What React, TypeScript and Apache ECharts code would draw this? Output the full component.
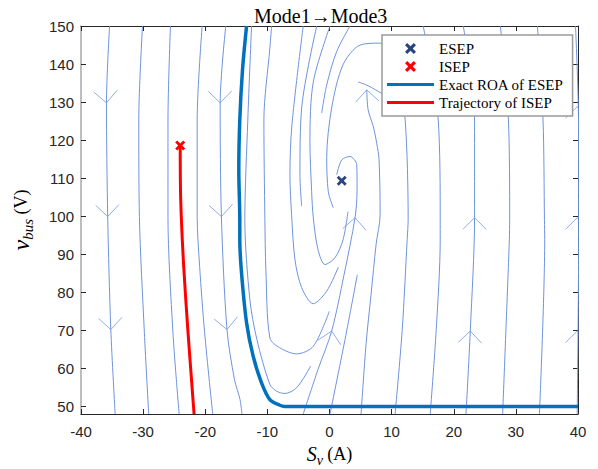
import React, { useEffect, useRef } from 'react';
import * as echarts from 'echarts';

const xTicks = [-40, -30, -20, -10, 0, 10, 20, 30, 40];
const yTicks = [50, 60, 70, 80, 90, 100, 110, 120, 130, 140, 150];

const esepPoint = [[1.97, 109.3]];
const isepPoint = [[-24.03, 118.6]];

const roaBoundary = [
  [-13.35, 150], [-14.0, 138.5], [-14.44, 125.3], [-14.6, 112.2], [-14.44, 99.1],
  [-14.44, 93.8], [-14.16, 85.1], [-13.35, 72.0], [-12.29, 63.2], [-10.94, 56.2],
  [-9.6, 51.8], [-7.98, 50.3], [-7.18, 50], [40, 50],
];

const isepTrajectory = [
  [-24.03, 118.6], [-23.95, 104.3], [-23.47, 86.8], [-22.77, 69.4], [-22.18, 56.3], [-21.8, 48],
];

// streamlines (phase portrait)
const streamL1 = [[-35.4, 150], [-35.9, 129.8], [-35.7, 99.9], [-35.2, 70.2], [-34.5, 48]];
const streamL2 = [[-30.1, 150], [-30.7, 125.3], [-30.6, 99.9], [-29.8, 69.4], [-29.1, 48]];
const streamL3 = [[-25.6, 150], [-26.0, 125.3], [-26.0, 99.9], [-25.2, 69.4], [-24.2, 48]];
const streamL4 = [[-20.5, 150], [-21.3, 125.3], [-21.3, 99.9], [-20.9, 86.7], [-20.1, 69.4], [-18.8, 48]];
const streamL5 = [[-16.7, 150], [-17.6, 129.8], [-17.4, 99.9], [-16.5, 70.2], [-15.3, 57.1], [-14.4, 51.8], [-14.1, 48]];
const streamSa = [
  [-12.55, 150], [-13.15, 125.3], [-13.63, 99.1], [-12.82, 78.1], [-11.69, 67.6],
  [-9.6, 55.8], [-8.52, 54.0], [-7.18, 53.4], [-5.29, 54.9], [-3.03, 60.6],
];
const streamSb = [
  [-9.32, 150], [-9.6, 144.2], [-10.56, 125.3], [-10.4, 99.1], [-10.24, 86.0],
  [-9.6, 68.0], [-8.0, 65.4], [-5.29, 63.8], [-2.61, 65.8], [-0.03, 75.0],
];
const streamSc = [
  [-4.23, 150], [-6.05, 124.0], [-6.37, 110.9], [-6.1, 100.4], [-5.56, 88.6],
  [-4.48, 81.2], [-2.61, 77.0], [-0.45, 80.3], [1.42, 86.6],
];
const streamSd = [[-2.06, 150], [-4.48, 128.5], [-4.76, 110.9], [-4.48, 102.6]];
const streamUd = [
  [0.08, 150], [-2.61, 135.3], [-3.15, 119.6], [-2.87, 106.4], [-2.61, 99.6],
  [-1.85, 91.2], [-0.73, 87.3], [0.89, 89.1], [2.18, 93.8], [2.98, 101.2],
];
const streamSe = [[3.31, 150], [1.16, 143.3], [-0.45, 134.5], [-1.26, 127.1]];
const streamR2 = [
  [10.56, 48], [11.7, 70], [12.5, 93.8], [12.66, 99.1], [12.18, 125.3], [11.05, 135.8],
  [9.76, 142.4], [8.15, 145.5], [4.92, 145.0], [2.18, 139.8], [0.35, 128.5],
  [-0.45, 115.4], [-0.19, 106.4], [0.61, 102.2],
];
const streamRise1 = [
  [-4.23, 48], [-1.85, 59.7], [0.35, 69.8], [2.34, 84.6], [4.11, 99.6], [4.44, 107],
  [4.39, 113.5], [3.31, 115.7], [1.97, 114.8], [1.16, 110.9],
];
const streamRise2 = [[0.08, 48], [2.5, 67.6], [4.48, 84.6]];
const streamR1 = [
  [5.08, 48], [5.89, 66.5], [6.69, 79.4], [7.5, 92.6], [8.15, 100.4], [7.98, 114.8],
  [7.6, 119.2], [7.06, 123.5], [6.21, 128], [6.0, 133.2],
];
const streamHook = [[4.6, 135.3], [6.21, 134.3], [8.47, 132.2], [10.08, 130.6]];
const streamR3 = [[16.21, 48], [17.18, 70.2], [17.82, 93.8], [17.82, 99.1], [17.5, 125.3], [15.08, 150]];
const streamR4 = [[21.97, 48], [22.66, 69.8], [23.35, 99.6], [23.35, 125.3], [21.53, 150]];
const streamR5 = [[27.87, 48], [28.95, 93.8], [29.0, 99.1], [28.8, 125.3], [27.5, 150]];
const streamR6 = [[33.79, 48], [34.64, 93.8], [34.6, 99.1], [34.37, 125.3], [33.47, 150]];
const streamR7 = [[39.87, 48], [40.1, 93.8], [40.08, 125.3], [39.6, 150]];

const streamlines = [
  streamL1, streamL2, streamL3, streamL4, streamL5, streamSa, streamSb, streamSc,
  streamSd, streamUd, streamSe, streamR2, streamRise1, streamRise2, streamR1,
  streamHook, streamR3, streamR4, streamR5, streamR6, streamR7,
];

// arrow heads: [x, y, dx, dy] (flow direction in data units)
const streamArrows = [
  [-35.9, 129.8, 0.05, -1], [-35.7, 99.9, 0.02, -1], [-35.2, 70.2, 0.03, -1],
  [-17.6, 129.8, 0.01, -1], [-17.4, 99.9, 0.03, -1], [-16.5, 70.2, 0.06, -1],
  [0.35, 69.8, 0.125, 1], [4.11, 99.6, 0.04, 1],
  [6.0, 133.2, -0.03, 1],
  [23.35, 99.6, 0, 1], [22.66, 69.8, 0.02, 1],
  [39.87, 128.8, 0, 1], [39.87, 99.6, 0, 1], [39.87, 69.8, 0, 1],
];

const X_PATH = 'path://M2,0 L5,3 L8,0 L10,2 L7,5 L10,8 L8,10 L5,7 L2,10 L0,8 L3,5 L0,2 Z';
const LINE_ICON = 'path://M0,0 L47,0 L47,3.2 L0,3.2 Z';
const STREAM_COLOR = '#6e93dd';
const ARROW_COLOR = '#8fadea';
const SERIF = "'Liberation Serif', 'Times New Roman', serif";
const SANS = "'Liberation Sans', Arial, sans-serif";

export default function App() {
  const ref = useRef<HTMLDivElement>(null);
  useEffect(() => {
    if (!ref.current) return;
    const chart = echarts.init(ref.current, undefined, { renderer: 'svg' });
    const streamSeries = streamlines.map((pts) => ({
      type: 'line',
      data: pts,
      symbol: 'none',
      smooth: 0.3,
      silent: true,
      lineStyle: { color: STREAM_COLOR, width: 1 },
      z: 1,
    }));
    const axisColor = '#262626';
    chart.setOption({
      animation: false,
      title: {
        text: 'Mode1→Mode3',
        left: 249,
        top: 1,
        textStyle: { fontFamily: SERIF, fontWeight: 'normal', fontSize: 20, color: '#000' },
      },
      legend: {
        orient: 'vertical',
        left: 382,
        top: 35,
        padding: [6, 9, 6, 5],
        itemGap: 3,
        itemWidth: 47,
        itemHeight: 11,
        backgroundColor: '#fff',
        borderColor: '#9a9a9a',
        borderWidth: 1.5,
        textStyle: { fontFamily: SERIF, fontSize: 15, color: '#000' },
        data: [
          { name: 'ESEP', icon: X_PATH, itemStyle: { color: '#27467f', opacity: 1 } },
          { name: 'ISEP', icon: X_PATH, itemStyle: { color: '#FF0000', opacity: 1 } },
          { name: 'Exact ROA of ESEP', icon: LINE_ICON, itemStyle: { color: '#0072BD' } },
          { name: 'Trajectory of ISEP', icon: LINE_ICON, itemStyle: { color: '#FF0000' } },
        ],
      },
      grid: { left: 81, right: 20, top: 26, bottom: 55, containLabel: false, outerBoundsMode: 'none' },
      xAxis: [
        {
          type: 'value', min: -40, max: 40, interval: 10, position: 'bottom',
          axisLine: { show: true, onZero: false, lineStyle: { color: axisColor, width: 1 } },
          axisTick: { show: true, inside: true, length: 5, lineStyle: { color: axisColor } },
          axisLabel: { fontFamily: SANS, fontSize: 15, color: axisColor, margin: 10, customValues: xTicks },
          splitLine: { show: false },
          name: '{s|S}{sub|v}{n| (A)}',
          nameLocation: 'middle',
          nameGap: 24,
          nameTextStyle: {
            rich: {
              s: { fontFamily: SERIF, fontStyle: 'italic', fontSize: 20, color: '#000' },
              sub: { fontFamily: SERIF, fontStyle: 'italic', fontSize: 14, color: '#000', padding: [14, 0, 0, 0] },
              n: { fontFamily: SERIF, fontSize: 18, color: '#000' },
            },
          },
        },
        {
          type: 'value', min: -40, max: 40, interval: 10, position: 'top',
          axisLine: { show: true, onZero: false, lineStyle: { color: axisColor, width: 1 } },
          axisTick: { show: true, inside: true, length: 5, lineStyle: { color: axisColor } },
          axisLabel: { show: false },
          splitLine: { show: false },
        },
      ],
      yAxis: [
        {
          type: 'value', min: 48, max: 150, position: 'left',
          axisLine: { show: true, onZero: false, lineStyle: { color: '#a8a8a8', width: 1.5 } },
          axisTick: { show: true, inside: true, length: 5, customValues: yTicks, lineStyle: { color: axisColor } },
          axisLabel: { fontFamily: SANS, fontSize: 15, color: axisColor, margin: 7, customValues: yTicks },
          splitLine: { show: false },
          name: '{v|v}{sub|bus}{n| (V)}',
          nameLocation: 'middle',
          nameRotate: 90,
          nameGap: 46,
          nameTextStyle: {
            rich: {
              v: { fontFamily: SERIF, fontStyle: 'italic', fontSize: 24, color: '#000' },
              sub: { fontFamily: SERIF, fontStyle: 'italic', fontSize: 15, color: '#000', padding: [14, 0, 0, 0] },
              n: { fontFamily: SERIF, fontSize: 18, color: '#000' },
            },
          },
        },
        {
          type: 'value', min: 48, max: 150, position: 'right',
          axisLine: { show: true, onZero: false, lineStyle: { color: axisColor, width: 1 } },
          axisTick: { show: true, inside: true, length: 5, customValues: yTicks, lineStyle: { color: axisColor } },
          axisLabel: { show: false },
          splitLine: { show: false },
        },
      ],
      series: [
        ...streamSeries,
        {
          type: 'custom',
          silent: true,
          clip: true,
          data: streamArrows,
          encode: { x: 0, y: 1 },
          z: 1,
          renderItem: (params: any, api: any) => {
            const x = api.value(0), y = api.value(1), dx = api.value(2), dy = api.value(3);
            const p = api.coord([x, y]);
            const q = api.coord([x + dx, y + dy]);
            let vx = q[0] - p[0], vy = q[1] - p[1];
            const len = Math.hypot(vx, vy) || 1;
            vx /= len; vy /= len;
            const bx = -vx, by = -vy;
            const L = 16.5;
            const c = Math.SQRT1_2;
            const a1 = [p[0] + L * (bx * c - by * c), p[1] + L * (bx * c + by * c)];
            const a2 = [p[0] + L * (bx * c + by * c), p[1] + L * (-bx * c + by * c)];
            return {
              type: 'polyline',
              shape: { points: [a1, p, a2] },
              style: { stroke: ARROW_COLOR, lineWidth: 1, fill: 'none' },
            };
          },
        },
        {
          name: 'Exact ROA of ESEP',
          type: 'line',
          data: roaBoundary,
          symbol: 'none',
          smooth: 0.3,
          lineStyle: { color: '#0072BD', width: 3.5 },
          itemStyle: { color: '#0072BD' },
          z: 3,
        },
        {
          name: 'Trajectory of ISEP',
          type: 'line',
          data: isepTrajectory,
          symbol: 'none',
          smooth: 0.3,
          lineStyle: { color: '#FF0000', width: 3 },
          itemStyle: { color: '#FF0000' },
          z: 3,
        },
        {
          name: 'ESEP',
          type: 'scatter',
          data: esepPoint,
          symbol: X_PATH,
          symbolSize: 10,
          itemStyle: { color: '#27467f', opacity: 1 },
          z: 4,
        },
        {
          name: 'ISEP',
          type: 'scatter',
          data: isepPoint,
          symbol: X_PATH,
          symbolSize: 10,
          itemStyle: { color: '#FF0000', opacity: 1 },
          z: 4,
        },
      ],
    });
    return () => chart.dispose();
  }, []);
  return <div ref={ref} style={{ width: 598, height: 469, position: 'absolute', left: 0, top: 0 }} />;
}
